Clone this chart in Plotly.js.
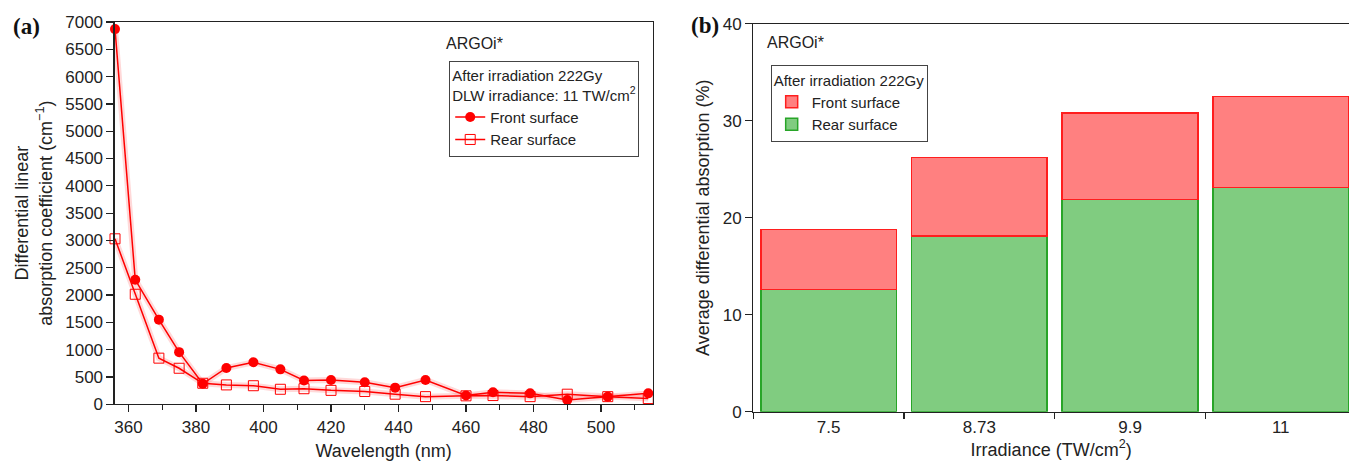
<!DOCTYPE html>
<html>
<head>
<meta charset="utf-8">
<script src="https://cdn.plot.ly/plotly-3.0.1.min.js"></script>
<style>
  html, body { margin: 0; padding: 0; background: #fff; }
  #chart { width: 1349px; height: 462px; }
</style>
</head>
<body>
<div id="chart"></div>
<script>
// ---- Panel (a) data ----
const wavelength = [356, 362, 369, 375, 382, 389, 397, 405, 412, 420, 430, 439, 448, 460, 468, 479, 490, 502, 514];
const frontSurface = [6870, 2280, 1550, 955, 375, 665, 770, 640, 435, 445, 405, 305, 445, 160, 220, 200, 80, 140, 200];
const rearSurface = [3030, 2015, 845, 660, 385, 355, 340, 275, 285, 255, 235, 185, 140, 155, 160, 140, 185, 140, 105];

// ---- Panel (b) data ----
const irradiance = ["7.5", "8.73", "9.9", "11"];
const rearAvg = [12.6, 18.1, 21.9, 23.1];
const frontAvg = [6.2, 8.1, 8.9, 9.4];

const FONT = '"Liberation Sans", Arial, sans-serif';
const RED = 'rgb(255,0,0)';
const TXT = '#222';

const traces = [
  // soft error-band look under the lines
  { x: wavelength, y: frontSurface, type: 'scatter', mode: 'lines', xaxis: 'x', yaxis: 'y',
    line: { color: 'rgba(255,80,80,0.22)', width: 6 }, showlegend: false, hoverinfo: 'skip', cliponaxis: false },
  { x: wavelength, y: rearSurface, type: 'scatter', mode: 'lines', xaxis: 'x', yaxis: 'y',
    line: { color: 'rgba(255,80,80,0.22)', width: 6 }, showlegend: false, hoverinfo: 'skip', cliponaxis: false },
  { x: wavelength, y: frontSurface, type: 'scatter', mode: 'lines+markers', name: 'Front surface',
    xaxis: 'x', yaxis: 'y', legend: 'legend', cliponaxis: false,
    line: { color: RED, width: 1.5 },
    marker: { symbol: 'circle', size: 10, color: RED, line: { width: 0 } } },
  { x: wavelength, y: rearSurface, type: 'scatter', mode: 'lines+markers', name: 'Rear surface',
    xaxis: 'x', yaxis: 'y', legend: 'legend', cliponaxis: false,
    line: { color: RED, width: 1.5 },
    marker: { symbol: 'square-open', size: 10, color: RED, line: { width: 1, color: RED } } },
  // panel (b)
  { x: irradiance, y: rearAvg, type: 'bar', name: 'Rear surface', xaxis: 'x2', yaxis: 'y2', legend: 'legend2',
    marker: { color: 'rgb(128,204,128)', line: { color: 'rgb(40,165,40)', width: 1.5 } } },
  { x: irradiance, y: frontAvg, type: 'bar', name: 'Front surface', xaxis: 'x2', yaxis: 'y2', legend: 'legend2',
    marker: { color: 'rgb(255,128,128)', line: { color: 'rgb(255,30,30)', width: 1.5 } } }
];

const axisCommon = {
  showline: true, linecolor: TXT, linewidth: 1.2, mirror: true,
  ticks: 'outside', tickcolor: TXT, tickwidth: 1.2, ticklen: 7,
  showgrid: false, zeroline: false,
  tickfont: { family: FONT, size: 17, color: TXT }
};
const titleFont = { family: FONT, size: 18, color: TXT };
const legFont = { family: FONT, size: 15, color: TXT };

const layout = {
  width: 1349, height: 462,
  margin: { l: 0, r: 0, t: 0, b: 0 },
  paper_bgcolor: '#fff', plot_bgcolor: '#fff',
  font: { family: FONT, color: TXT },
  barmode: 'stack', bargap: 0.1,
  showlegend: true,
  xaxis: Object.assign({}, axisCommon, {
    domain: [0.0850, 0.4838], range: [355.9, 515.3], dtick: 20, tick0: 0,
    minor: { dtick: 10, ticks: 'outside', ticklen: 5, tickcolor: TXT, tickwidth: 1.2 },
    title: { text: 'Wavelength (nm)', font: titleFont, standoff: 8 },
    anchor: 'y'
  }),
  yaxis: Object.assign({}, axisCommon, {
    domain: [0.1249, 0.9524], range: [0, 7000], dtick: 500,
    title: { text: 'Differential linear<br>absorption coefficient (cm<sup>\u22121</sup>)',
             font: titleFont, standoff: 8 },
    anchor: 'x'
  }),
  xaxis2: Object.assign({}, axisCommon, {
    domain: [0.5584, 1], type: 'category', range: [-0.5, 3.453],
    tickson: 'boundaries', ticklen: 6, mirror: true,
    title: { text: 'Irradiance (TW/cm<sup>2</sup>)', font: titleFont, standoff: 6 },
    anchor: 'y2'
  }),
  yaxis2: Object.assign({}, axisCommon, {
    domain: [0.1089, 0.9487], range: [0, 40], dtick: 10, mirror: false,
    title: { text: 'Average differential absorption (%)', font: titleFont, standoff: 8 },
    anchor: 'x2'
  }),
  legend: {
    x: 0.333, y: 0.8686, xanchor: 'left', yanchor: 'top', xref: 'paper', yref: 'paper',
    bgcolor: '#fff', bordercolor: '#444', borderwidth: 1,
    font: legFont,
    title: { text: 'After irradiation 222Gy<br>DLW irradiance: 11 TW/cm<sup>2</sup>', side: 'top', font: legFont },
    tracegroupgap: 0, itemwidth: 30
  },
  legend2: {
    x: 0.5713, y: 0.8593, xanchor: 'left', yanchor: 'top', xref: 'paper', yref: 'paper',
    bgcolor: '#fff', bordercolor: '#444', borderwidth: 1,
    font: legFont,
    traceorder: 'reversed',
    title: { text: 'After irradiation 222Gy', side: 'top', font: legFont },
    tracegroupgap: 0, itemwidth: 30
  },
  annotations: [
    { text: '<b>(a)</b>', x: 11 / 1349, y: 1 - 27 / 462, xref: 'paper', yref: 'paper', xanchor: 'left', yanchor: 'middle',
      showarrow: false, font: { family: '"Liberation Serif", "Times New Roman", serif', size: 23, color: '#111' } },
    { text: '<b>(b)</b>', x: 689 / 1349, y: 1 - 25 / 462, xref: 'paper', yref: 'paper', xanchor: 'left', yanchor: 'middle',
      showarrow: false, font: { family: '"Liberation Serif", "Times New Roman", serif', size: 23, color: '#111' } },
    { text: 'ARGOi*', x: 444 / 1349, y: 1 - 43 / 462, xref: 'paper', yref: 'paper', xanchor: 'left', yanchor: 'middle',
      showarrow: false, font: { family: FONT, size: 16, color: TXT } },
    { text: 'ARGOi*', x: 765 / 1349, y: 1 - 42 / 462, xref: 'paper', yref: 'paper', xanchor: 'left', yanchor: 'middle',
      showarrow: false, font: { family: FONT, size: 16, color: TXT } }
  ]
};

Plotly.newPlot('chart', traces, layout, { displayModeBar: false, staticPlot: true });
</script>
</body>
</html>
